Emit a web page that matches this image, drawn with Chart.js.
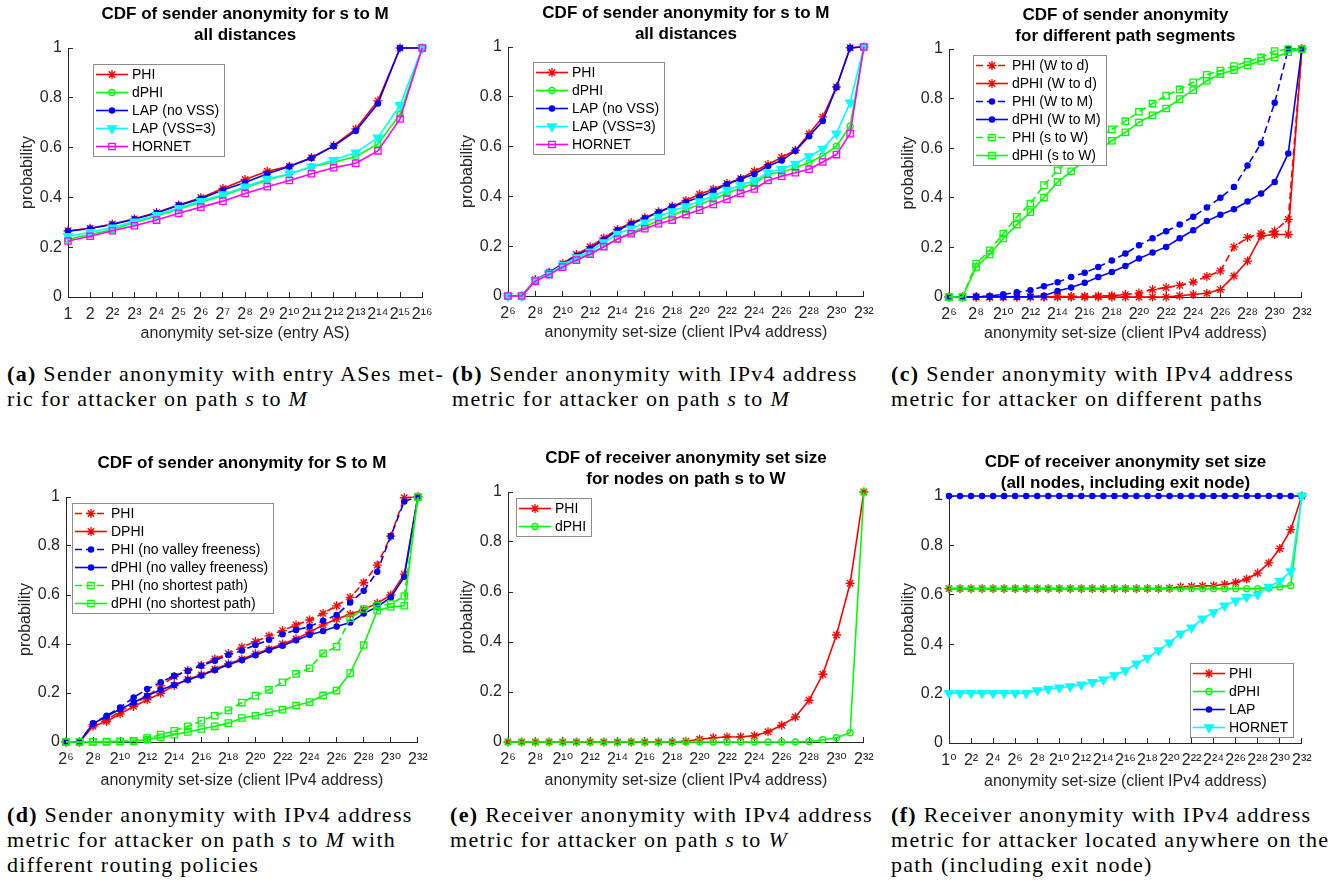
<!DOCTYPE html>
<html>
<head>
<meta charset="utf-8">
<title>CDF of sender and receiver anonymity</title>
<script src="https://cdn.jsdelivr.net/npm/chart.js@4.4.1/dist/chart.umd.min.js"></script>
<style>
  html, body { margin: 0; padding: 0; background: #fff; }
  body { position: relative; width: 1338px; height: 890px; overflow: hidden; }
  canvas { position: absolute; }
  .cap {
    position: absolute;
    font-family: "Liberation Serif", "Times New Roman", serif;
    font-size: 22px;
    line-height: 25px;
    letter-spacing: 1.3px;
    color: #000;
    white-space: nowrap;
  }
</style>
</head>
<body>
<canvas id="chartA"></canvas>
<canvas id="chartB"></canvas>
<canvas id="chartC"></canvas>
<canvas id="chartD"></canvas>
<canvas id="chartE"></canvas>
<canvas id="chartF"></canvas>

<div class="cap" style="left:7px; top:361px"><b>(a)</b> Sender anonymity with entry ASes met-<br>ric for attacker on path <i>s</i> to <i>M</i></div>
<div class="cap" style="left:452px; top:361px"><b>(b)</b> Sender anonymity with IPv4 address<br>metric for attacker on path <i>s</i> to <i>M</i></div>
<div class="cap" style="left:891px; top:361px"><b>(c)</b> Sender anonymity with IPv4 address<br>metric for attacker on different paths</div>
<div class="cap" style="left:7px; top:802px"><b>(d)</b> Sender anonymity with IPv4 address<br>metric for attacker on path <i>s</i> to <i>M</i> with<br>different routing policies</div>
<div class="cap" style="left:450px; top:802px"><b>(e)</b> Receiver anonymity with IPv4 address<br>metric for attacker on path <i>s</i> to <i>W</i></div>
<div class="cap" style="left:891px; top:802px"><b>(f)</b> Receiver anonymity with IPv4 address<br>metric for attacker located anywhere on the<br>path (including exit node)</div>

<script>
// x values are exponents of 2 (anonymity set-size = 2^x)
const expEntryAS = [0, 1, 2, 3, 4, 5, 6, 7, 8, 9, 10, 11, 12, 13, 14, 15, 16];
const expIPv4 = [6, 7, 8, 9, 10, 11, 12, 13, 14, 15, 16, 17, 18, 19, 20, 21, 22, 23, 24, 25, 26, 27, 28, 29, 30, 31, 32];
const expAll = [0, 1, 2, 3, 4, 5, 6, 7, 8, 9, 10, 11, 12, 13, 14, 15, 16, 17, 18, 19, 20, 21, 22, 23, 24, 25, 26, 27, 28, 29, 30, 31, 32];

// (a) sender anonymity, entry AS metric
const aPHI = [0.266, 0.276, 0.293, 0.314, 0.339, 0.369, 0.399, 0.436, 0.472, 0.505, 0.525, 0.56, 0.608, 0.675, 0.788, 1, 1];
const aDPHI = [0.232, 0.251, 0.271, 0.298, 0.325, 0.353, 0.381, 0.408, 0.439, 0.47, 0.494, 0.523, 0.541, 0.564, 0.615, 0.734, 1];
const aLAP = [0.264, 0.275, 0.291, 0.312, 0.337, 0.368, 0.395, 0.43, 0.46, 0.495, 0.524, 0.558, 0.606, 0.667, 0.777, 1, 1];
const aLAPVSS = [0.244, 0.26, 0.279, 0.303, 0.329, 0.357, 0.385, 0.412, 0.443, 0.474, 0.495, 0.523, 0.55, 0.58, 0.64, 0.77, 1];
const aHORNET = [0.225, 0.244, 0.266, 0.286, 0.309, 0.336, 0.361, 0.385, 0.416, 0.443, 0.468, 0.495, 0.519, 0.537, 0.587, 0.715, 1];

// (b) sender anonymity, IPv4 address metric
const bPHI = [0, 0, 0.066, 0.095, 0.13, 0.167, 0.198, 0.233, 0.267, 0.294, 0.314, 0.338, 0.36, 0.384, 0.409, 0.429, 0.452, 0.472, 0.501, 0.528, 0.557, 0.585, 0.652, 0.719, 0.84, 0.997, 1];
const bDPHI = [0, 0, 0.061, 0.087, 0.119, 0.148, 0.171, 0.198, 0.229, 0.255, 0.278, 0.303, 0.324, 0.346, 0.368, 0.389, 0.412, 0.434, 0.452, 0.49, 0.497, 0.515, 0.536, 0.563, 0.602, 0.682, 1];
const bLAP = [0, 0, 0.064, 0.094, 0.128, 0.162, 0.191, 0.226, 0.264, 0.289, 0.312, 0.336, 0.358, 0.378, 0.398, 0.422, 0.449, 0.47, 0.49, 0.522, 0.544, 0.583, 0.642, 0.703, 0.838, 0.997, 1];
const bLAPVSS = [0, 0, 0.064, 0.091, 0.125, 0.155, 0.178, 0.215, 0.249, 0.27, 0.295, 0.318, 0.34, 0.36, 0.38, 0.402, 0.426, 0.444, 0.464, 0.495, 0.509, 0.531, 0.561, 0.591, 0.652, 0.777, 1];
const bHORNET = [0, 0, 0.06, 0.086, 0.116, 0.144, 0.168, 0.198, 0.229, 0.25, 0.27, 0.29, 0.305, 0.327, 0.345, 0.368, 0.389, 0.412, 0.43, 0.464, 0.481, 0.495, 0.509, 0.538, 0.568, 0.652, 1];

// (c) different path segments
const cPHIWd = [0, 0, 0, 0, 0, 0.001, 0.001, 0.001, 0.002, 0.002, 0.003, 0.004, 0.005, 0.01, 0.016, 0.03, 0.038, 0.047, 0.06, 0.083, 0.105, 0.202, 0.24, 0.256, 0.266, 0.313, 1];
const cDPHIWd = [0, 0, 0, 0, 0, 0, 0, 0, 0, 0, 0, 0, 0, 0, 0, 0, 0, 0.005, 0.01, 0.015, 0.03, 0.085, 0.145, 0.246, 0.252, 0.252, 1];
const cPHIWM = [0, 0, 0.002, 0.004, 0.011, 0.019, 0.027, 0.043, 0.059, 0.081, 0.098, 0.121, 0.147, 0.175, 0.209, 0.237, 0.265, 0.292, 0.324, 0.361, 0.4, 0.444, 0.53, 0.62, 0.783, 1, 1];
const cDPHIWM = [0, 0, 0.001, 0.001, 0.001, 0.001, 0.002, 0.005, 0.024, 0.038, 0.057, 0.081, 0.101, 0.125, 0.155, 0.179, 0.202, 0.237, 0.269, 0.306, 0.332, 0.354, 0.385, 0.417, 0.464, 0.579, 1];
const cPHIsW = [0, 0, 0.135, 0.188, 0.256, 0.323, 0.377, 0.451, 0.511, 0.56, 0.6, 0.64, 0.676, 0.709, 0.747, 0.78, 0.812, 0.837, 0.866, 0.896, 0.913, 0.931, 0.949, 0.966, 0.992, 1, 1];
const cDPHIsW = [0, 0, 0.121, 0.172, 0.236, 0.292, 0.342, 0.401, 0.463, 0.507, 0.55, 0.59, 0.63, 0.664, 0.704, 0.733, 0.76, 0.798, 0.834, 0.872, 0.899, 0.915, 0.935, 0.952, 0.966, 0.987, 1];

// (d) different routing policies
const dPHI = [0, 0, 0.071, 0.091, 0.125, 0.156, 0.186, 0.229, 0.267, 0.292, 0.313, 0.339, 0.361, 0.387, 0.41, 0.433, 0.455, 0.478, 0.498, 0.525, 0.556, 0.59, 0.65, 0.722, 0.84, 0.997, 1];
const dDPHI = [0, 0, 0.064, 0.084, 0.115, 0.145, 0.172, 0.199, 0.231, 0.256, 0.274, 0.297, 0.319, 0.338, 0.36, 0.379, 0.4, 0.421, 0.448, 0.478, 0.502, 0.521, 0.541, 0.566, 0.6, 0.685, 1];
const dPHINoVF = [0, 0, 0.077, 0.107, 0.141, 0.182, 0.216, 0.244, 0.27, 0.29, 0.311, 0.332, 0.355, 0.373, 0.396, 0.417, 0.44, 0.457, 0.471, 0.495, 0.518, 0.569, 0.617, 0.695, 0.84, 0.982, 1];
const dDPHINoVF = [0, 0, 0.075, 0.104, 0.134, 0.161, 0.189, 0.213, 0.233, 0.254, 0.271, 0.294, 0.315, 0.335, 0.354, 0.376, 0.393, 0.415, 0.437, 0.453, 0.471, 0.488, 0.524, 0.552, 0.59, 0.674, 1];
const dPHINoSP = [0, 0, 0.001, 0.002, 0.003, 0.005, 0.016, 0.03, 0.046, 0.064, 0.087, 0.107, 0.129, 0.161, 0.189, 0.213, 0.244, 0.278, 0.301, 0.362, 0.389, 0.505, 0.543, 0.557, 0.563, 0.596, 1];
const dDPHINoSP = [0, 0, 0, 0, 0.001, 0.003, 0.01, 0.019, 0.03, 0.041, 0.053, 0.064, 0.077, 0.098, 0.107, 0.121, 0.132, 0.149, 0.163, 0.19, 0.21, 0.281, 0.396, 0.536, 0.552, 0.556, 1];

// (e) receiver anonymity, nodes on path s to W
const ePHI = [0, 0, 0, 0, 0, 0, 0, 0, 0, 0, 0, 0, 0, 0.003, 0.011, 0.017, 0.02, 0.021, 0.025, 0.041, 0.067, 0.1, 0.167, 0.271, 0.428, 0.635, 1];
const eDPHI = [0, 0, 0, 0, 0, 0, 0, 0, 0, 0, 0, 0, 0, 0, 0, 0, 0, 0, 0, 0, 0, 0, 0.002, 0.009, 0.017, 0.037, 1];

// (f) receiver anonymity, all nodes including exit node
const fPHI = [0.625, 0.625, 0.625, 0.625, 0.625, 0.625, 0.625, 0.625, 0.625, 0.625, 0.625, 0.625, 0.625, 0.625, 0.625, 0.625, 0.625, 0.625, 0.625, 0.625, 0.627, 0.632, 0.634, 0.636, 0.637, 0.642, 0.65, 0.664, 0.688, 0.729, 0.787, 0.864, 1];
const fDPHI = [0.625, 0.625, 0.625, 0.625, 0.625, 0.625, 0.625, 0.625, 0.625, 0.625, 0.625, 0.625, 0.625, 0.625, 0.625, 0.625, 0.625, 0.625, 0.625, 0.625, 0.625, 0.625, 0.625, 0.625, 0.625, 0.625, 0.625, 0.625, 0.625, 0.628, 0.632, 0.638, 1];
const fLAP = [1, 1, 1, 1, 1, 1, 1, 1, 1, 1, 1, 1, 1, 1, 1, 1, 1, 1, 1, 1, 1, 1, 1, 1, 1, 1, 1, 1, 1, 1, 1, 1, 1];
const fHORNET = [0.202, 0.202, 0.202, 0.202, 0.202, 0.202, 0.202, 0.202, 0.213, 0.219, 0.224, 0.229, 0.236, 0.246, 0.256, 0.274, 0.294, 0.321, 0.345, 0.375, 0.406, 0.443, 0.467, 0.503, 0.529, 0.556, 0.576, 0.591, 0.601, 0.632, 0.656, 0.695, 1];

const RED = '#ff0000', GREEN = '#00ff00', BLUE = '#0000ff', CYAN = '#00ffff', MAGENTA = '#ff00ff';
const AXIS = '#262626';
const FONT = '"Liberation Sans", Arial, "DejaVu Sans", sans-serif';
const Y_AXIS_W = 50;   // room for tick labels + "probability"
const PAD_RIGHT = 18;  // room for the last x tick label
const TITLE_LINE = 21;

Chart.defaults.font.family = FONT;
Chart.defaults.color = AXIS;

// matlab-like markers
const MARKERS = {
  star: { style: 'star', radius: 4.5, filled: false },
  circle: { style: 'circle', radius: 3, filled: false },
  dot: { style: 'circle', radius: 2.6, filled: true },
  tri: { style: 'triangle', radius: 5, filled: true, rotation: 180 },
  square: { style: 'rect', radius: 4.5, filled: false }
};

function series(label, data, color, marker, dashed) {
  const m = MARKERS[marker];
  return {
    label: label,
    data: data,
    borderColor: color,
    borderWidth: 1.6,
    borderDash: dashed ? [7, 4] : [],
    pointStyle: m.style,
    pointRadius: m.radius,
    pointHoverRadius: m.radius,
    pointRotation: m.rotation || 0,
    pointBorderColor: color,
    pointBackgroundColor: m.filled ? color : 'rgba(0,0,0,0)',
    pointBorderWidth: 1.3,
    tension: 0,
    fill: false,
    clip: false
  };
}

const SUP = ['⁰', '¹', '²', '³', '⁴', '⁵', '⁶', '⁷', '⁸', '⁹'];
function pow2(v) {
  return '2' + String(v).split('').map(d => SUP[+d]).join('');
}

// title centred over the plot area (the built-in one squeezed long lines)
const panelTitle = {
  id: 'panelTitle',
  afterDraw(chart, args, opts) {
    const ctx = chart.ctx;
    const area = chart.chartArea;
    ctx.save();
    ctx.font = 'bold 17px ' + FONT;
    ctx.fillStyle = '#000';
    ctx.textAlign = 'center';
    ctx.textBaseline = 'middle';
    opts.lines.forEach((line, i) => {
      ctx.fillText(line, (area.left + area.right) / 2, opts.y + i * TITLE_LINE);
    });
    ctx.restore();
  }
};

// legend box drawn inside the plot, line sample + marker like matlab
const cornerLegend = {
  id: 'cornerLegend',
  afterDraw(chart, args, opts) {
    const ctx = chart.ctx;
    const area = chart.chartArea;
    const sets = chart.data.datasets;
    ctx.save();
    ctx.font = '14px ' + FONT;
    let textW = 0;
    sets.forEach(ds => { textW = Math.max(textW, ctx.measureText(ds.label).width); });
    const w = Math.round(39 + textW + 5);
    const h = sets.length * 18 + 2;
    const x = Math.round(opts.corner === 'br' ? area.right - opts.x - w : area.left + opts.x);
    const y = Math.round(opts.corner === 'br' ? area.bottom - opts.y - h : area.top + opts.y);
    ctx.fillStyle = '#fff';
    ctx.fillRect(x, y, w, h);
    ctx.strokeStyle = '#8c8c8c';
    ctx.lineWidth = 1;
    ctx.strokeRect(x + 0.5, y + 0.5, w, h);
    sets.forEach((ds, i) => {
      const cy = y + 10.5 + i * 18;
      ctx.strokeStyle = ds.borderColor;
      ctx.lineWidth = ds.borderWidth;
      ctx.setLineDash(ds.borderDash);
      ctx.beginPath();
      ctx.moveTo(x + 3, cy);
      ctx.lineTo(x + 35, cy);
      ctx.stroke();
      ctx.setLineDash([]);
      ctx.fillStyle = ds.pointBackgroundColor;
      ctx.strokeStyle = ds.pointBorderColor;
      ctx.lineWidth = ds.pointBorderWidth;
      Chart.helpers.drawPoint(ctx, {
        pointStyle: ds.pointStyle,
        rotation: ds.pointRotation,
        radius: ds.pointRadius,
        borderWidth: ds.pointBorderWidth
      }, x + 19, cy);
      ctx.fillStyle = '#000';
      ctx.textAlign = 'left';
      ctx.textBaseline = 'middle';
      ctx.fillText(ds.label, x + 39, cy + 1);
    });
    ctx.restore();
  }
};

const GRID = { drawOnChartArea: false, drawTicks: true, tickLength: -5, color: AXIS, lineWidth: 1 };
const BORDER = { display: true, color: AXIS, width: 1 };

// box: top of canvas, plot left/right/top/bottom, centre of first title line, x-axis height
function makeChart(id, opt) {
  const box = opt.box;
  const canvas = document.getElementById(id);
  canvas.style.left = (box.L - Y_AXIS_W) + 'px';
  canvas.style.top = box.top + 'px';
  canvas.width = box.R - box.L + Y_AXIS_W + PAD_RIGHT;
  canvas.height = box.B - box.top + box.xH;

  opt.sets.forEach((s, i) => { s.order = -i; }); // later series on top, like matlab

  return new Chart(canvas, {
    type: 'line',
    data: { labels: opt.labels, datasets: opt.sets },
    options: {
      responsive: false,
      animation: false,
      events: [],
      layout: { padding: { left: 0, right: PAD_RIGHT, top: box.T - box.top, bottom: 0 } },
      plugins: {
        legend: { display: false },
        tooltip: { enabled: false },
        title: { display: false },
        panelTitle: { lines: opt.title, y: box.titleY - box.top },
        cornerLegend: opt.legend
      },
      scales: {
        x: {
          type: 'linear',
          min: opt.labels[0],
          max: opt.labels[opt.labels.length - 1],
          afterFit: s => { s.height = box.xH; },
          ticks: {
            stepSize: opt.step,
            autoSkip: false,
            maxRotation: 0,
            minRotation: 0,
            padding: 13.4,
            font: { size: 16 },
            callback: opt.tickText
          },
          grid: GRID,
          border: BORDER,
          title: { display: true, text: opt.xTitle, font: { size: 16 }, padding: 0 }
        },
        y: {
          min: 0,
          max: 1,
          afterFit: s => { s.width = Y_AXIS_W; },
          ticks: {
            stepSize: 0.2,
            padding: 11,
            font: { size: 16 },
            callback: v => String(Math.round(v * 10) / 10)
          },
          grid: GRID,
          border: BORDER,
          title: { display: true, text: 'probability', font: { size: 16 }, padding: 0 }
        }
      }
    },
    plugins: [panelTitle, cornerLegend]
  });
}

const IPV4_TITLE = 'anonymity set-size (client IPv4 address)';

makeChart('chartA', {
  box: { top: 0, L: 68, R: 428, T: 48, B: 297, titleY: 14, xH: 46 },
  title: ['CDF of sender anonymity for s to M', 'all distances'],
  xTitle: 'anonymity set-size (entry AS)',
  labels: expEntryAS,
  step: 1,
  tickText: v => v === 0 ? '1' : (v === 1 ? '2' : pow2(v)),
  legend: { corner: 'tl', x: 25, y: 16 },
  sets: [
    series('PHI', aPHI, RED, 'star'),
    series('dPHI', aDPHI, GREEN, 'circle'),
    series('LAP (no VSS)', aLAP, BLUE, 'dot'),
    series('LAP (VSS=3)', aLAPVSS, CYAN, 'tri'),
    series('HORNET', aHORNET, MAGENTA, 'square')
  ]
});

makeChart('chartB', {
  box: { top: 0, L: 508, R: 869, T: 47, B: 296, titleY: 13, xH: 46 },
  title: ['CDF of sender anonymity for s to M', 'all distances'],
  xTitle: IPV4_TITLE,
  labels: expIPv4,
  step: 2,
  tickText: v => pow2(v),
  legend: { corner: 'tl', x: 25, y: 15 },
  sets: [
    series('PHI', bPHI, RED, 'star'),
    series('dPHI', bDPHI, GREEN, 'circle'),
    series('LAP (no VSS)', bLAP, BLUE, 'dot'),
    series('LAP (VSS=3)', bLAPVSS, CYAN, 'tri'),
    series('HORNET', bHORNET, MAGENTA, 'square')
  ]
});

makeChart('chartC', {
  box: { top: 0, L: 949, R: 1307, T: 49, B: 297, titleY: 15, xH: 46 },
  title: ['CDF of sender anonymity', 'for different path segments'],
  xTitle: IPV4_TITLE,
  labels: expIPv4,
  step: 2,
  tickText: v => pow2(v),
  legend: { corner: 'tl', x: 24, y: 6 },
  sets: [
    series('PHI (W to d)', cPHIWd, RED, 'star', true),
    series('dPHI (W to d)', cDPHIWd, RED, 'star'),
    series('PHI (W to M)', cPHIWM, BLUE, 'dot', true),
    series('dPHI (W to M)', cDPHIWM, BLUE, 'dot'),
    series('PHI (s to W)', cPHIsW, GREEN, 'square', true),
    series('dPHI (s to W)', cDPHIsW, GREEN, 'square')
  ]
});

makeChart('chartD', {
  box: { top: 440, L: 66, R: 423, T: 497, B: 742, titleY: 463, xH: 48 },
  title: ['CDF of sender anonymity for S to M'],
  xTitle: IPV4_TITLE,
  labels: expIPv4,
  step: 2,
  tickText: v => pow2(v),
  legend: { corner: 'tl', x: 6, y: 6 },
  sets: [
    series('PHI', dPHI, RED, 'star', true),
    series('DPHI', dDPHI, RED, 'star'),
    series('PHI (no valley freeness)', dPHINoVF, BLUE, 'dot', true),
    series('dPHI (no valley freeness)', dDPHINoVF, BLUE, 'dot'),
    series('PHI (no shortest path)', dPHINoSP, GREEN, 'square', true),
    series('dPHI (no shortest path)', dDPHINoSP, GREEN, 'square')
  ]
});

makeChart('chartE', {
  box: { top: 440, L: 508, R: 869, T: 492, B: 742, titleY: 458, xH: 48 },
  title: ['CDF of receiver anonymity set size', 'for nodes on path s to W'],
  xTitle: IPV4_TITLE,
  labels: expIPv4,
  step: 2,
  tickText: v => pow2(v),
  legend: { corner: 'tl', x: 8, y: 6 },
  sets: [
    series('PHI', ePHI, RED, 'star'),
    series('dPHI', eDPHI, GREEN, 'circle')
  ]
});

makeChart('chartF', {
  box: { top: 440, L: 949, R: 1307, T: 496, B: 743, titleY: 462, xH: 48 },
  title: ['CDF of receiver anonymity set size', '(all nodes, including exit node)'],
  xTitle: IPV4_TITLE,
  labels: expAll,
  step: 2,
  tickText: v => v === 0 ? '1⁰' : pow2(v),
  legend: { corner: 'br', x: 9, y: 6 },
  sets: [
    series('PHI', fPHI, RED, 'star'),
    series('dPHI', fDPHI, GREEN, 'circle'),
    series('LAP', fLAP, BLUE, 'dot'),
    series('HORNET', fHORNET, CYAN, 'tri')
  ]
});
</script>
</body>
</html>
